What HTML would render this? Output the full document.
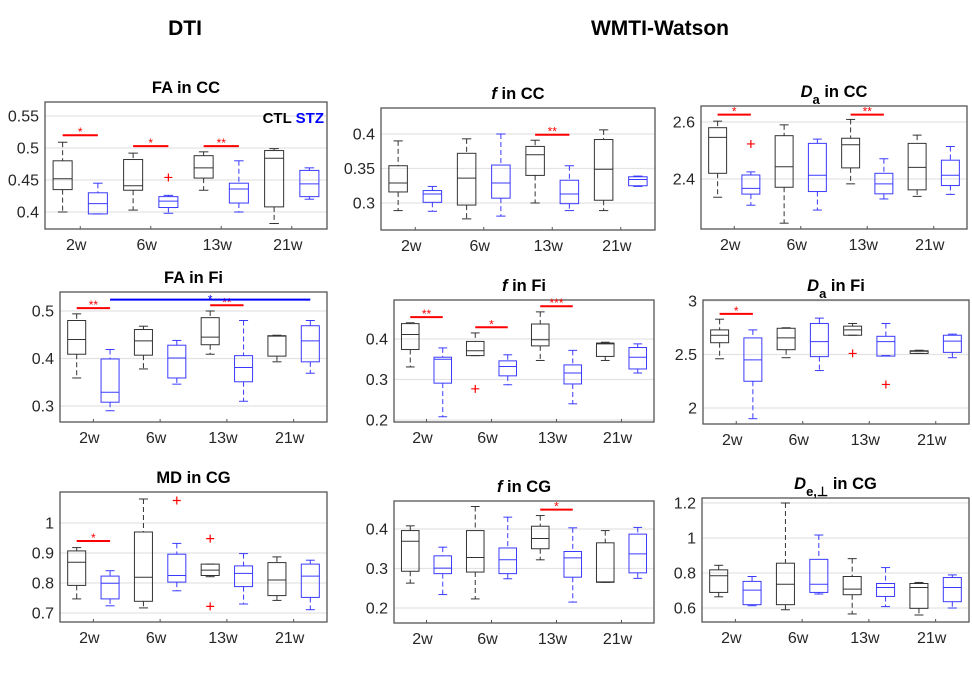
<!DOCTYPE html>
<html><head><meta charset="utf-8"><style>
html,body{margin:0;padding:0;background:#fff;}
svg{display:block;font-family:"Liberation Sans",Arial,sans-serif;}
</style></head><body>
<svg id="fig" width="972" height="692" viewBox="0 0 972 692">
<text x="185" y="35" font-size="21" font-weight="bold" text-anchor="middle">DTI</text>
<text x="660" y="35" font-size="21" font-weight="bold" text-anchor="middle">WMTI-Watson</text>
</svg>
<script>
const categories = ["2w","6w","13w","21w"];
// each box: [whiskerLow, q1, median, q3, whiskerHigh]
const faCC_ctl = [[0.40,0.435,0.452,0.48,0.509],[0.403,0.434,0.441,0.482,0.492],[0.434,0.453,0.469,0.488,0.494],[0.382,0.408,0.484,0.496,0.499]];
const faCC_stz = [[0.397,0.397,0.413,0.43,0.445],[0.398,0.407,0.417,0.424,0.426],[0.40,0.414,0.436,0.445,0.48],[0.42,0.424,0.444,0.465,0.469]];
const faCC_out = [[1,1,0.454]];
const faCC_sig = [[0,0.52,"*"],[1,0.503,"*"],[2,0.503,"**"]];
const fCC_ctl = [[0.289,0.316,0.329,0.354,0.39],[0.277,0.297,0.336,0.372,0.393],[0.30,0.34,0.37,0.382,0.391],[0.289,0.304,0.349,0.392,0.406]];
const fCC_stz = [[0.288,0.301,0.313,0.318,0.324],[0.281,0.307,0.329,0.355,0.40],[0.289,0.299,0.313,0.333,0.354],[0.324,0.325,0.334,0.338,0.339]];
const fCC_out = [];
const fCC_sig = [[2,0.399,"**"]];
const daCC_ctl = [[2.336,2.42,2.546,2.58,2.603],[2.245,2.371,2.443,2.552,2.59],[2.383,2.439,2.52,2.543,2.609],[2.339,2.362,2.441,2.525,2.554]];
const daCC_stz = [[2.308,2.347,2.367,2.414,2.425],[2.291,2.356,2.413,2.525,2.54],[2.33,2.348,2.383,2.42,2.471],[2.346,2.377,2.413,2.466,2.514]];
const daCC_out = [[0,1,2.523]];
const daCC_sig = [[0,2.626,"*"],[2,2.626,"**"]];
const faFi_ctl = [[0.359,0.409,0.44,0.48,0.494],[0.378,0.407,0.437,0.461,0.468],[0.409,0.429,0.445,0.486,0.50],[0.393,0.405,0.447,0.448,0.449]];
const faFi_stz = [[0.29,0.308,0.329,0.399,0.419],[0.346,0.359,0.401,0.428,0.438],[0.31,0.351,0.381,0.406,0.48],[0.369,0.393,0.437,0.469,0.48]];
const faFi_out = [];
const faFi_sig = [[0,0.506,"**"],[2,0.512,"**"]];
const fFi_ctl = [[0.331,0.374,0.411,0.438,0.44],[0.359,0.359,0.371,0.394,0.415],[0.347,0.383,0.398,0.437,0.467],[0.347,0.357,0.388,0.39,0.392]];
const fFi_stz = [[0.208,0.291,0.35,0.355,0.378],[0.287,0.309,0.332,0.346,0.361],[0.24,0.289,0.316,0.336,0.372],[0.316,0.326,0.355,0.379,0.388]];
const fFi_out = [[1,0,0.277]];
const fFi_sig = [[0,0.454,"**"],[1,0.429,"*"],[2,0.481,"***"]];
const daFi_ctl = [[2.46,2.61,2.68,2.73,2.83],[2.47,2.545,2.655,2.745,2.75],[2.68,2.68,2.73,2.765,2.79],[2.51,2.51,2.53,2.535,2.54]];
const daFi_stz = [[1.9,2.25,2.45,2.655,2.73],[2.35,2.48,2.62,2.79,2.84],[2.49,2.485,2.62,2.67,2.79],[2.47,2.52,2.625,2.68,2.69]];
const daFi_out = [[2,0,2.51],[2,1,2.22]];
const daFi_sig = [[0,2.88,"*"]];
const mdCG_ctl = [[0.747,0.792,0.869,0.907,0.918],[0.717,0.739,0.819,0.97,1.08],[0.821,0.825,0.843,0.863,0.863],[0.742,0.758,0.81,0.868,0.887]];
const mdCG_stz = [[0.724,0.747,0.799,0.823,0.841],[0.774,0.803,0.825,0.896,0.932],[0.73,0.788,0.832,0.857,0.898],[0.711,0.752,0.823,0.863,0.876]];
const mdCG_out = [[1,1,1.075],[2,0,0.948],[2,0,0.722]];
const mdCG_sig = [[0,0.94,"*"]];
const fCG_ctl = [[0.263,0.293,0.369,0.396,0.408],[0.223,0.291,0.328,0.396,0.457],[0.322,0.35,0.376,0.407,0.434],[0.265,0.265,0.266,0.365,0.396]];
const fCG_stz = [[0.234,0.287,0.301,0.332,0.354],[0.274,0.287,0.322,0.352,0.43],[0.215,0.278,0.327,0.343,0.403],[0.275,0.289,0.337,0.387,0.404]];
const fCG_out = [];
const fCG_sig = [[2,0.449,"*"]];
const deCG_ctl = [[0.664,0.689,0.784,0.818,0.844],[0.59,0.619,0.736,0.856,1.2],[0.566,0.676,0.708,0.78,0.882],[0.56,0.598,0.717,0.74,0.746]];
const deCG_stz = [[0.613,0.619,0.702,0.752,0.78],[0.68,0.689,0.736,0.878,1.017],[0.608,0.666,0.717,0.74,0.831],[0.60,0.636,0.717,0.774,0.789]];
const deCG_out = [];
const deCG_sig = [];
const faCC_ticks=[0.4,0.45,0.5,0.55], fCC_ticks=[0.3,0.35,0.4], daCC_ticks=[2.4,2.6];
const faFi_ticks=[0.3,0.4,0.5], fFi_ticks=[0.2,0.3,0.4], daFi_ticks=[2,2.5,3];
const mdCG_ticks=[0.7,0.8,0.9,1], fCG_ticks=[0.2,0.3,0.4], deCG_ticks=[0.6,0.8,1,1.2];

const NS="http://www.w3.org/2000/svg";
const svg=document.getElementById('fig');
function mk(tag,attrs,parent){const e=document.createElementNS(NS,tag);for(const k in attrs)e.setAttribute(k,attrs[k]);(parent||svg).appendChild(e);return e;}

const panels=[
 {id:"fa-cc",title:["FA in CC"],ctl:faCC_ctl,stz:faCC_stz,out:faCC_out,sig:faCC_sig,ticks:faCC_ticks,f:[45,327,102,229],cal:[0.55,116,0.4,212],leg:true},
 {id:"f-cc",title:["f","ital"," in CC"],ctl:fCC_ctl,stz:fCC_stz,out:fCC_out,sig:fCC_sig,ticks:fCC_ticks,f:[381,655,108,230],cal:[0.4,134,0.3,203]},
 {id:"da-cc",title:["D","a"," in CC"],ctl:daCC_ctl,stz:daCC_stz,out:daCC_out,sig:daCC_sig,ticks:daCC_ticks,f:[701,967,106,229],cal:[2.6,122,2.4,179]},
 {id:"fa-fi",title:["FA in Fi"],ctl:faFi_ctl,stz:faFi_stz,out:faFi_out,sig:faFi_sig,ticks:faFi_ticks,f:[60,327,292,422],cal:[0.5,311,0.3,406],blue:[0,3,0.524]},
 {id:"f-fi",title:["f","ital"," in Fi"],ctl:fFi_ctl,stz:fFi_stz,out:fFi_out,sig:fFi_sig,ticks:fFi_ticks,f:[394,654,300,422],cal:[0.4,339,0.2,420]},
 {id:"da-fi",title:["D","a"," in Fi"],ctl:daFi_ctl,stz:daFi_stz,out:daFi_out,sig:daFi_sig,ticks:daFi_ticks,f:[703,969,300,424],cal:[3,301,2,408]},
 {id:"md-cg",title:["MD in CG"],ctl:mdCG_ctl,stz:mdCG_stz,out:mdCG_out,sig:mdCG_sig,ticks:mdCG_ticks,f:[60,327,492,622],cal:[1,523,0.7,613]},
 {id:"f-cg",title:["f","ital"," in CG"],ctl:fCG_ctl,stz:fCG_stz,out:fCG_out,sig:fCG_sig,ticks:fCG_ticks,f:[394,654,501,623],cal:[0.4,529,0.2,608]},
 {id:"de-cg",title:["D","e,\u22A5"," in CG"],ctl:deCG_ctl,stz:deCG_stz,out:deCG_out,sig:deCG_sig,ticks:deCG_ticks,f:[702,969,498,622],cal:[1.2,503,0.6,608]}
];

panels.forEach(p=>{
  const [x0,x1,y0,y1]=p.f;
  const [v1,p1,v2,p2]=p.cal;
  const yS=v=>p1+(v-v1)*(p2-p1)/(v2-v1);
  const pitch=(x1-x0)/4;
  const xC=(i,s)=>x0+(i+0.5)*pitch+s*0.25*pitch;
  const bw=pitch*0.27;
  const g=mk('g',{});
  
  
  p.ticks.forEach(t=>{
    const y=yS(t);
    const gl=mk('line',{x1:x0,x2:x1,y1:y,y2:y,stroke:'#e3e3e3','stroke-width':1.2},g);
    
    
    const tl=mk('text',{x:x0-6,y:y+5.5,'font-size':16,fill:'#262626','text-anchor':'end'},g);
    tl.textContent=String(t);
    
    
  });
  const fr=mk('rect',{x:x0,y:y0,width:x1-x0,height:y1-y0,fill:'none',stroke:'#555','stroke-width':1.3},g);
  
  
  categories.forEach((c,i)=>{
    const xt=x0+(i+0.5)*pitch;
    mk('line',{x1:xt,x2:xt,y1:y1,y2:y1-3,stroke:'#555'},g);
    const xl=mk('text',{x:xt-4,y:y1+21,'font-size':16,fill:'#262626','text-anchor':'middle'},g);
    xl.textContent=c;
    
    
  });
  const tc=(x0+x1)/2;
  const tt=mk('text',{x:tc,y:y0-9,'font-size':16.5,'font-weight':'bold','text-anchor':'middle',fill:'#000'},g);
  
  
  if(p.title.length===1){tt.textContent=p.title[0];}
  else if(p.title[1]==="ital"){
    const a=mk('tspan',{'font-style':'italic'},tt);a.textContent=p.title[0];
    const b=mk('tspan',{},tt);b.textContent=p.title[2];
  } else {
    const a=mk('tspan',{'font-style':'italic'},tt);a.textContent=p.title[0];
    const b=mk('tspan',{dy:7,'font-size':13},tt);b.textContent=p.title[1];
    const c=mk('tspan',{dy:-7},tt);c.textContent=p.title[2];
  }
  [[p.ctl,-1,'#333'],[p.stz,1,'#3a3aff']].forEach(([arr,s,col])=>{
    arr.forEach((b,i)=>{
      const x=xC(i,s);
      const bg=mk('g',{},g);
      
      
      const [lo,q1,md,q3,hi]=b;
      mk('line',{x1:x,x2:x,y1:yS(hi),y2:yS(q3),stroke:col,'stroke-dasharray':'5,3'},bg);
      mk('line',{x1:x,x2:x,y1:yS(q1),y2:yS(lo),stroke:col,'stroke-dasharray':'5,3'},bg);
      mk('line',{x1:x-bw/4,x2:x+bw/4,y1:yS(hi),y2:yS(hi),stroke:col},bg);
      mk('line',{x1:x-bw/4,x2:x+bw/4,y1:yS(lo),y2:yS(lo),stroke:col},bg);
      const yt=Math.min(yS(q1),yS(q3)),yb=Math.max(yS(q1),yS(q3));
      mk('rect',{x:x-bw/2,y:yt,width:bw,height:Math.max(yb-yt,1),fill:'none',stroke:col},bg);
      mk('line',{x1:x-bw/2,x2:x+bw/2,y1:yS(md),y2:yS(md),stroke:col},bg);
    });
  });
  p.out.forEach(o=>{
    const x=xC(o[0],o[1]?1:-1),y=yS(o[2]);
    const og=mk('path',{d:`M${x-4},${y}H${x+4}M${x},${y-4}V${y+4}`,stroke:'#f00','stroke-width':1.2},g);
    
    
  });
  p.sig.forEach(s=>{
    const y=yS(s[1]);
    const xa=xC(s[0],-1),xb=xC(s[0],1);
    const sl=mk('line',{x1:xa,x2:xb,y1:y,y2:y,stroke:'#f00','stroke-width':2},g);
    
    
    const st=mk('text',{x:(xa+xb)/2,y:y+1,'font-size':12,fill:'#f00','text-anchor':'middle'},g);
    st.textContent=s[2];
    
    
  });
  if(p.blue){
    const y=yS(p.blue[2]);
    const xa=xC(p.blue[0],1),xb=xC(p.blue[1],1);
    const bl=mk('line',{x1:xa,x2:xb,y1:y,y2:y,stroke:'#00f','stroke-width':2},g);
    
    
    const bt=mk('text',{x:(xa+xb)/2,y:y+4,'font-size':12,fill:'#00f','text-anchor':'middle'},g);
    bt.textContent="*";
    
    
  }
  if(p.leg){
    const lt=mk('text',{x:x1-3,y:y0+21,'font-size':15,'font-weight':'bold','text-anchor':'end'},g);
    
    
    const a=mk('tspan',{fill:'#000'},lt);a.textContent="CTL ";
    const b=mk('tspan',{fill:'#00f'},lt);b.textContent="STZ";
  }
});
</script>
</body></html>
